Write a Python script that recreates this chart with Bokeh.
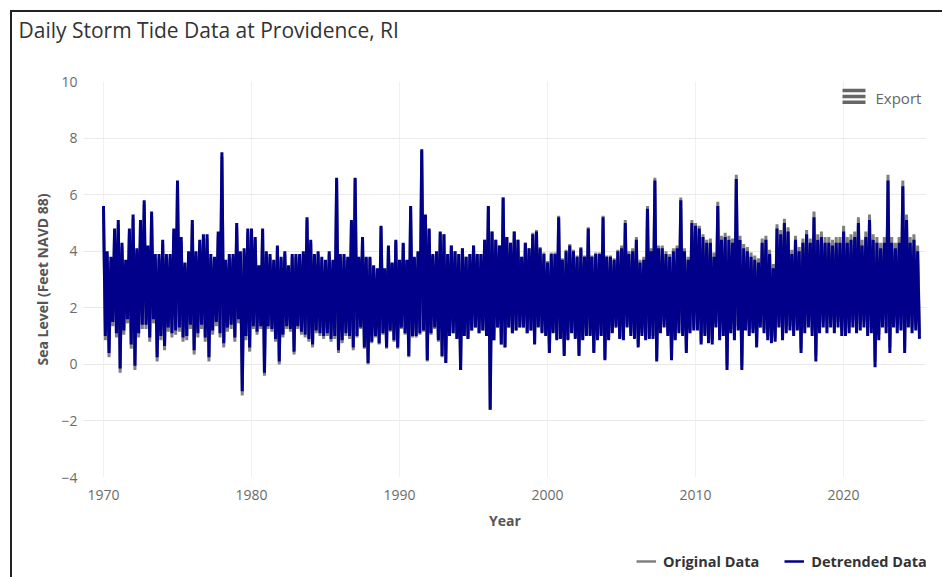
from bokeh.plotting import figure
from bokeh.layouts import column
from bokeh.models import (Range1d, Legend, LegendItem, Label, FixedTicker,
                          BoxAnnotation, Title)
from bokeh.embed import file_html
from bokeh.resources import INLINE

TITLE = "Daily Storm Tide Data at Providence, RI"
X_LABEL = "Year"
Y_LABEL = "Sea Level (Feet NAVD 88)"
SERIES_NAMES = ["Original Data", "Detrended Data"]
first_year = 1970
samples_per_year = 4          # one high / low pair per quarter
x_ticks = [1970, 1980, 1990, 2000, 2010, 2020]
y_ticks = [-4, -2, 0, 2, 4, 6, 8, 10]

# Detrended data: quarterly high and low water (ft NAVD 88)
detrended_high = [
    5.6, 4.0, 3.8, 4.8,   # 1970
    5.1, 4.3, 3.7, 4.8,
    5.3, 4.1, 5.1, 5.8,
    4.2, 5.4, 3.9, 3.9,
    4.4, 3.9, 3.9, 4.8,
    6.5, 4.5, 3.6, 4.0,   # 1975
    5.1, 4.0, 4.4, 4.6,
    4.6, 3.9, 3.8, 4.7,
    7.5, 3.7, 3.9, 3.9,
    5.0, 4.0, 4.1, 4.8,
    4.8, 4.5, 3.5, 4.8,   # 1980
    4.0, 3.9, 3.7, 4.2,
    3.8, 4.0, 3.5, 3.9,
    3.9, 3.9, 4.0, 5.2,
    4.4, 3.9, 4.0, 3.8,
    3.7, 4.0, 3.7, 6.6,   # 1985
    3.9, 3.9, 3.8, 5.1,
    6.6, 3.8, 4.5, 3.8,
    3.8, 3.5, 3.4, 4.9,
    3.4, 4.2, 3.6, 4.4,
    3.7, 4.3, 3.7, 5.6,   # 1990
    3.8, 4.0, 7.6, 5.3,
    4.8, 3.9, 4.0, 4.7,
    4.6, 3.9, 4.2, 4.0,
    3.9, 4.1, 3.8, 3.9,
    4.2, 3.9, 3.9, 4.4,   # 1995
    5.6, 4.7, 4.4, 4.2,
    5.9, 4.5, 4.3, 4.7,
    4.4, 3.8, 4.3, 4.1,
    4.6, 4.7, 4.1, 3.9,
    3.6, 3.9, 3.9, 5.2,   # 2000
    3.7, 4.0, 4.2, 4.0,
    3.8, 4.1, 3.8, 4.8,
    3.8, 3.9, 3.9, 5.2,
    3.8, 3.8, 3.7, 4.0,
    4.1, 5.0, 3.9, 4.0,   # 2005
    4.4, 3.6, 3.7, 5.5,
    4.0, 6.5, 4.1, 4.1,
    3.9, 3.8, 4.0, 4.1,
    5.8, 4.0, 3.7, 5.0,
    4.9, 4.8, 4.5, 4.3,   # 2010
    4.3, 3.8, 5.6, 4.4,
    4.5, 4.4, 4.3, 6.55,
    4.4, 4.1, 4.0, 3.8,
    3.7, 3.6, 4.3, 4.4,
    3.9, 3.4, 4.8, 4.6,   # 2015
    5.0, 4.7, 3.9, 4.4,
    4.0, 4.3, 4.6, 4.3,
    5.2, 4.4, 4.5, 4.3,
    4.3, 4.2, 4.3, 4.3,
    4.7, 4.3, 4.4, 4.5,   # 2020
    5.0, 4.2, 4.5, 5.1,
    4.4, 4.3, 4.1, 4.3,
    6.5, 4.3, 4.1, 4.3,
    6.3, 5.1, 4.3, 4.4,
    4.0,                  # 2025
]
detrended_low = [
    1.0, 0.4, 1.5, 1.1,   # 1970
    -0.15, 1.2, 1.6, 0.7,
    -0.05, 1.1, 1.4, 1.4,
    0.95, 1.6, 0.25, 1.0,
    0.65, 1.3, 1.1, 1.2,
    1.3, 0.95, 1.0, 1.4,  # 1975
    0.5, 1.1, 1.4, 0.95,
    0.25, 1.2, 1.5, 1.1,
    0.75, 1.3, 1.4, 0.95,
    1.6, -0.95, 1.0, 0.6,
    1.35, 1.15, 1.35, -0.3,  # 1980
    1.35, 1.25, 0.9, 0.1,
    1.05, 1.35, 1.25, 0.45,
    1.35, 1.15, 1.05, 0.9,
    0.7, 1.2, 1.1, 1.0,
    1.1, 0.9, 1.0, 0.5,   # 1985
    0.85, 1.1, 1.0, 0.6,
    1.0, 1.3, 0.6, 0.05,
    0.8, 1.0, 0.75, 1.1,
    0.6, 1.2, 0.85, 0.6,
    1.3, 1.1, 0.3, 1.0,   # 1990
    1.0, 1.1, 1.2, 0.15,
    1.1, 1.3, 0.85, 0.3,
    0.05, 1.0, 1.1, 0.9,
    -0.2, 1.0, 0.9, 1.2,
    1.3, 1.1, 1.2, 1.0,   # 1995
    -1.6, 0.85, 1.3, 0.7,
    0.6, 1.3, 1.1, 1.2,
    1.3, 1.3, 1.1, 1.2,
    0.7, 1.3, 1.1, 1.0,
    0.4, 1.1, 0.85, 0.9,  # 2000
    0.3, 0.85, 1.1, 0.9,
    0.3, 0.85, 1.0, 1.0,
    0.4, 0.85, 1.0, 0.15,
    0.85, 1.1, 1.3, 0.9,
    0.85, 1.3, 1.0, 0.9,  # 2005
    0.6, 1.0, 0.85, 0.9,
    0.9, 0.1, 1.1, 1.3,
    1.0, 0.15, 0.85, 1.1,
    1.0, 0.4, 1.1, 1.2,
    1.2, 0.7, 1.0, 0.75,  # 2010
    0.7, 1.3, 0.85, 1.0,
    -0.2, 1.1, 0.85, 1.2,
    -0.2, 1.2, 1.0, 1.1,
    0.6, 1.3, 1.1, 0.85,
    0.75, 0.8, 1.3, 0.85,  # 2015
    1.1, 1.2, 1.0, 1.2,
    0.4, 1.1, 1.3, 1.0,
    0.1, 1.1, 1.3, 1.1,
    1.3, 1.1, 1.3, 1.0,
    1.0, 1.1, 1.3, 1.1,   # 2020
    1.2, 1.3, 1.0, 1.1,
    -0.1, 0.85, 1.3, 1.1,
    0.4, 1.3, 1.1, 1.2,
    0.4, 1.3, 1.1, 1.2,
    0.9,                  # 2025
]

# Original (not detrended) data: quarterly high and low water (ft NAVD 88)
original_high = [
    5.45, 3.85, 3.65, 4.65,   # 1970
    4.95, 4.15, 3.55, 4.65,
    5.15, 3.95, 4.95, 5.65,
    4.05, 5.25, 3.75, 3.75,
    4.25, 3.75, 3.75, 4.65,
    6.35, 4.35, 3.45, 3.85,   # 1975
    4.95, 3.85, 4.25, 4.45,
    4.45, 3.75, 3.65, 4.55,
    7.35, 3.55, 3.75, 3.75,
    4.85, 3.85, 3.95, 4.65,
    4.7, 4.4, 3.4, 4.7,       # 1980
    3.9, 3.8, 3.6, 4.1,
    3.7, 3.9, 3.4, 3.8,
    3.8, 3.8, 3.9, 5.1,
    4.3, 3.8, 3.9, 3.7,
    3.6, 3.9, 3.6, 6.5,       # 1985
    3.8, 3.8, 3.7, 5.0,
    6.55, 3.75, 4.45, 3.75,
    3.75, 3.45, 3.35, 4.85,
    3.35, 4.15, 3.55, 4.35,
    3.65, 4.25, 3.65, 5.55,   # 1990
    3.75, 3.95, 7.55, 5.25,
    4.75, 3.85, 3.95, 4.65,
    4.6, 3.9, 4.2, 4.0,
    3.9, 4.1, 3.8, 3.9,
    4.2, 3.9, 3.9, 4.4,       # 1995
    5.6, 4.7, 4.4, 4.2,
    5.9, 4.5, 4.3, 4.7,
    4.4, 3.8, 4.3, 4.1,
    4.65, 4.75, 4.15, 3.95,
    3.65, 3.95, 3.95, 5.25,   # 2000
    3.75, 4.05, 4.25, 4.05,
    3.85, 4.15, 3.85, 4.85,
    3.85, 3.95, 3.95, 5.25,
    3.85, 3.85, 3.75, 4.05,
    4.2, 5.1, 4.0, 4.1,       # 2005
    4.5, 3.7, 3.8, 5.6,
    4.1, 6.6, 4.2, 4.2,
    4.0, 3.9, 4.1, 4.2,
    5.9, 4.1, 3.8, 5.1,
    5.0, 4.9, 4.6, 4.4,       # 2010
    4.45, 3.95, 5.75, 4.55,
    4.65, 4.55, 4.45, 6.7,
    4.55, 4.25, 4.15, 3.95,
    3.85, 3.75, 4.45, 4.55,
    4.05, 3.55, 4.95, 4.75,   # 2015
    5.15, 4.85, 4.05, 4.55,
    4.15, 4.45, 4.75, 4.45,
    5.4, 4.6, 4.7, 4.5,
    4.5, 4.4, 4.5, 4.5,
    4.9, 4.5, 4.6, 4.7,       # 2020
    5.2, 4.4, 4.7, 5.3,
    4.6, 4.5, 4.3, 4.5,
    6.7, 4.5, 4.3, 4.5,
    6.5, 5.3, 4.5, 4.6,
    4.2,                      # 2025
]
original_low = [
    0.85, 0.25, 1.35, 0.95,   # 1970
    -0.3, 1.05, 1.45, 0.55,
    -0.2, 0.95, 1.25, 1.25,
    0.8, 1.45, 0.1, 0.85,
    0.5, 1.15, 0.95, 1.05,
    1.15, 0.8, 0.85, 1.25,    # 1975
    0.35, 0.95, 1.25, 0.8,
    0.1, 1.05, 1.35, 0.95,
    0.6, 1.15, 1.25, 0.8,
    1.45, -1.1, 0.85, 0.45,
    1.25, 1.05, 1.25, -0.4,   # 1980
    1.25, 1.15, 0.8, 0.0,
    0.95, 1.25, 1.15, 0.35,
    1.25, 1.05, 0.95, 0.8,
    0.6, 1.1, 1.0, 0.9,
    1.0, 0.8, 0.9, 0.4,       # 1985
    0.75, 1.0, 0.9, 0.5,
    0.95, 1.25, 0.55, 0.0,
    0.75, 0.95, 0.7, 1.05,
    0.55, 1.15, 0.8, 0.55,
    1.25, 1.05, 0.25, 0.95,   # 1990
    0.95, 1.05, 1.15, 0.1,
    1.05, 1.25, 0.8, 0.25,
    0.05, 1.0, 1.1, 0.9,
    -0.2, 1.0, 0.9, 1.2,
    1.3, 1.1, 1.2, 1.0,       # 1995
    -1.6, 0.85, 1.3, 0.7,
    0.6, 1.3, 1.1, 1.2,
    1.3, 1.3, 1.1, 1.2,
    0.75, 1.35, 1.15, 1.05,
    0.45, 1.15, 0.9, 0.95,    # 2000
    0.35, 0.9, 1.15, 0.95,
    0.35, 0.9, 1.05, 1.05,
    0.45, 0.9, 1.05, 0.2,
    0.9, 1.15, 1.35, 0.95,
    0.95, 1.4, 1.1, 1.0,      # 2005
    0.7, 1.1, 0.95, 1.0,
    1.0, 0.2, 1.2, 1.4,
    1.1, 0.25, 0.95, 1.2,
    1.1, 0.5, 1.2, 1.3,
    1.3, 0.8, 1.1, 0.85,      # 2010
    0.85, 1.45, 1.0, 1.15,
    -0.05, 1.25, 1.0, 1.35,
    -0.05, 1.35, 1.15, 1.25,
    0.75, 1.45, 1.25, 1.0,
    0.9, 0.95, 1.45, 1.0,     # 2015
    1.25, 1.35, 1.15, 1.35,
    0.55, 1.25, 1.45, 1.15,
    0.3, 1.3, 1.5, 1.3,
    1.5, 1.3, 1.5, 1.2,
    1.2, 1.3, 1.5, 1.3,       # 2020
    1.4, 1.5, 1.2, 1.3,
    0.1, 1.05, 1.5, 1.3,
    0.6, 1.5, 1.3, 1.4,
    0.6, 1.5, 1.3, 1.4,
    1.1,                      # 2025
]


def zigzag(highs, lows):
    """Interleave each quarter's high and low into one continuous trace."""
    xs, ys = [], []
    for i, (hi, lo) in enumerate(zip(highs, lows)):
        t = first_year + i / samples_per_year
        xs.extend([t, t + 0.5 / samples_per_year])
        ys.extend([hi, lo])
    return xs, ys


FONT = "Open Sans"
COLORS = ["#808080", "#00008b"]
ox, oy = zigzag(original_high, original_low)
dx, dy = zigzag(detrended_high, detrended_low)
traces = [(ox, oy), (dx, dy)]

# ---------------- main chart ----------------
p = figure(
    width=930, height=525,
    output_backend="svg", toolbar_location=None, title_location=None,
    x_range=Range1d(1968.65, 2025.6), y_range=Range1d(-4, 10),
    min_border_left=71, min_border_right=16,
    min_border_top=69, min_border_bottom=60,
    background_fill_color="white", border_fill_color="white",
)
p.outline_line_color = None

# title: a blank spacer next to the plot area, then the real title above it
p.add_layout(Title(text=" ", text_font_size="10px", standoff=23), "above")
p.add_layout(Title(text=TITLE, text_font=FONT, text_font_size="21px",
                   text_font_style="normal", text_color="#333333",
                   align="left", vertical_align="top", offset=-65, standoff=0),
             "above")

for (xs, ys), c in zip(traces, COLORS):
    p.line(xs, ys, line_color=c, line_width=3)

for ax in (p.xaxis[0], p.yaxis[0]):
    ax.axis_line_color = None
    ax.major_tick_line_color = None
    ax.minor_tick_line_color = None
    ax.major_tick_out = 0
    ax.major_tick_in = 0
    ax.minor_tick_out = 0
    ax.minor_tick_in = 0
    ax.major_label_text_font = FONT
    ax.major_label_text_font_size = "14px"
    ax.major_label_text_color = "#6b6b6b"
    ax.axis_label_text_font = FONT
    ax.axis_label_text_font_size = "14px"
    ax.axis_label_text_font_style = "bold"
    ax.axis_label_text_color = "#555555"

p.xaxis.ticker = FixedTicker(ticks=x_ticks)
p.yaxis.ticker = FixedTicker(ticks=y_ticks)
p.xaxis.axis_label = X_LABEL
p.yaxis.axis_label = Y_LABEL
p.xaxis.major_label_standoff = 12
p.xaxis.axis_label_standoff = 8
p.yaxis.major_label_standoff = 6
p.yaxis.axis_label_standoff = 6

p.xgrid.ticker = FixedTicker(ticks=x_ticks)
p.ygrid.ticker = FixedTicker(ticks=y_ticks)
p.xgrid.grid_line_color = "#f0f0f0"
p.ygrid.grid_line_color = "#e9e9e9"

# export menu: hamburger icon + text (inside the plot area, top right)
for top, bottom in ((388.7, 385.3), (382.7, 379.3), (377.0, 373.5)):
    p.add_layout(BoxAnnotation(left=759, right=782, top=top, bottom=bottom,
                               left_units="screen", right_units="screen",
                               top_units="screen", bottom_units="screen",
                               fill_color="#666666", fill_alpha=1.0,
                               line_color=None))
p.add_layout(Label(x=792, y=380, x_units="screen", y_units="screen",
                   text="Export", text_font=FONT, text_font_size="15px",
                   text_color="#666666", text_baseline="middle"))

# ---------------- legend strip under the chart ----------------
# same series, drawn outside this strip's visible range: only their legend keys show
leg = figure(
    width=930, height=40, output_backend="svg", toolbar_location=None,
    x_range=Range1d(0, 1), y_range=Range1d(0, 1),
    x_axis_location=None, y_axis_location=None,
    min_border_left=71, min_border_right=16, min_border_top=0, min_border_bottom=0,
    background_fill_color="white", border_fill_color="white",
)
leg.outline_line_color = None
leg.grid.visible = False
keys = [leg.line(xs, ys, line_color=c, line_width=2.5) for (xs, ys), c in zip(traces, COLORS)]
legend = Legend(
    items=[LegendItem(label=name, renderers=[r]) for name, r in zip(SERIES_NAMES, keys)],
    orientation="horizontal", location=(553, 6),
    border_line_color=None, background_fill_alpha=0,
    label_text_font=FONT, label_text_font_size="14.5px",
    label_text_font_style="bold", label_text_color="#333333",
    glyph_width=20, glyph_height=20, label_standoff=7, spacing=25,
    padding=0, margin=0,
)
leg.add_layout(legend)

layout = column(p, leg, spacing=0)
layout.styles = {"margin-left": "10px", "margin-top": "10px",
                 "border-top": "2px solid #222222", "border-left": "2px solid #222222"}

open("out.html", "w").write(file_html(layout, INLINE))
